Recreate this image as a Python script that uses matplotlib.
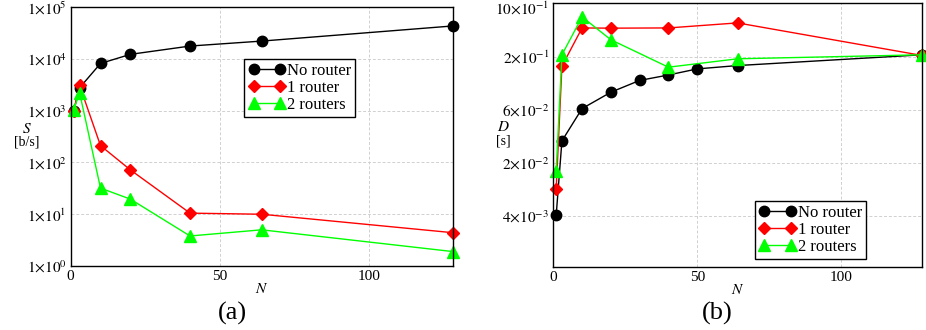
import matplotlib
matplotlib.use("Agg")
import matplotlib.pyplot as plt
from matplotlib.transforms import ScaledTranslation

plt.rcParams['font.family'] = ['Liberation Serif', 'DejaVu Serif']
plt.rcParams['mathtext.fontset'] = 'stix'

# Throughput S [b/s] vs number of nodes N
n_s = [1, 3, 10, 20, 40, 64, 128]
s_none = [980, 2780, 8200, 12300, 17800, 22200, 43500]
s_one = [1000, 3080, 212, 72, 10.5, 10.0, 4.4]
s_two = [1050, 2220, 32, 19.6, 3.8, 5.0, 1.9]

# Delay D [s] vs number of nodes N
n_d_none = [1, 3, 10, 20, 30, 40, 50, 64, 128]
d_none = [0.00435, 0.029, 0.066, 0.100, 0.135, 0.155, 0.181, 0.197, 0.259]
n_d = [1, 3, 10, 20, 40, 64, 128]
d_one = [0.00845, 0.194, 0.513, 0.51, 0.513, 0.583, 0.255]
d_two = [0.0135, 0.259, 0.679, 0.380, 0.189, 0.234, 0.259]

s_ticks = [1, 10, 100, 1e3, 1e4, 1e5]
s_ticklabels = [r'$1{\times}10^{%d}$' % k for k in range(6)]
d_ticks = [0.004346, 0.01673, 0.0644, 0.248, 0.955]
d_ticklabels = [r'$4{\times}10^{-3}$', r'$2{\times}10^{-2}$', r'$6{\times}10^{-2}$',
                r'$2{\times}10^{-1}$', r'$10{\times}10^{-1}$']
x_ticks = [0, 50, 100]

series = ["No router", "1 router", "2 routers"]
styles = [dict(color='black', marker='o', ms=7.5),
          dict(color='red', marker='D', ms=6),
          dict(color='#00ff00', marker='^', ms=8.5)]

fig = plt.figure(figsize=(9.26, 3.3), dpi=100)
ax1 = fig.add_axes([0.0763, 0.194, 0.4126, 0.784])
ax2 = fig.add_axes([0.5975, 0.191, 0.3979, 0.7984])


def style_axes(ax):
    ax.set_yscale('log')
    ax.set_xlim(0, 128)
    ax.set_xticks(x_ticks)
    ax.minorticks_off()
    ax.grid(True, color='#d0d0d0', linestyle=(0, (3, 2)), linewidth=0.7)
    ax.set_axisbelow(True)
    ax.tick_params(length=0, labelsize=11, pad=3)
    for sp in ax.spines.values():
        sp.set_linewidth(1.0)
    ax.set_xlabel('$N$', fontsize=11, labelpad=-1)


def add_legend(ax, **kw):
    leg = ax.legend(numpoints=2, handlelength=2.2, fontsize=12, frameon=True,
                    fancybox=False, edgecolor='black', framealpha=1, borderpad=0.25,
                    labelspacing=0.05, handletextpad=0.1, borderaxespad=0, **kw)
    leg.get_frame().set_linewidth(1.0)


for x, y, lab, st in zip([n_s] * 3, [s_none, s_one, s_two], series, styles):
    ax1.plot(x, y, label=lab, lw=1.0, clip_on=False, **st)
style_axes(ax1)
ax1.set_ylim(1, 1e5)
ax1.set_yticks(s_ticks)
ax1.set_yticklabels(s_ticklabels)
ax1.minorticks_off()
ax1.text(-0.115, 0.53, '$S$', transform=ax1.transAxes, ha='center', va='center', fontsize=11)
ax1.text(-0.115, 0.48, '[b/s]', transform=ax1.transAxes, ha='center', va='center', fontsize=10)
add_legend(ax1, loc='upper left', bbox_to_anchor=(0.455, 0.8))
fig.text(0.2505, 0.05, '(a)', ha='center', va='center', fontsize=19)

for x, y, lab, st in zip([n_d_none, n_d, n_d], [d_none, d_one, d_two], series, styles):
    ax2.plot(x, y, label=lab, lw=1.0, clip_on=False, **st)
style_axes(ax2)
ax2.set_ylim(d_ticks[0] / 3.7, d_ticks[-1])
ax2.set_yticks(d_ticks)
ax2.set_yticklabels(d_ticklabels)
ax2.minorticks_off()
# keep the top label inside the figure
top_label = ax2.get_yticklabels()[-1]
top_label.set_transform(top_label.get_transform() +
                        ScaledTranslation(0, -3 / 72, fig.dpi_scale_trans))
ax2.text(-0.135, 0.53, '$D$', transform=ax2.transAxes, ha='center', va='center', fontsize=11)
ax2.text(-0.135, 0.48, '[s]', transform=ax2.transAxes, ha='center', va='center', fontsize=10)
add_legend(ax2, loc='lower left', bbox_to_anchor=(0.548, 0.03))
fig.text(0.775, 0.05, '(b)', ha='center', va='center', fontsize=19)

fig.savefig('out.png', dpi=100)
